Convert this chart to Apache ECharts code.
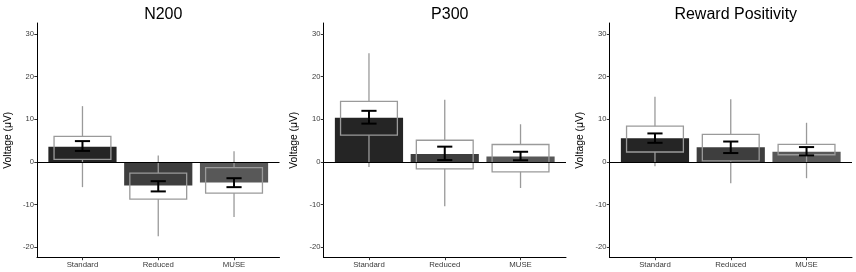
<!DOCTYPE html>
<html>
<head>
<meta charset="utf-8">
<script src="https://cdn.jsdelivr.net/npm/echarts@6/dist/echarts.min.js"></script>
<style>
html,body{margin:0;padding:0;background:#fff;}
#chart{width:856px;height:272px;}
</style>
</head>
<body>
<div id="chart"></div>
<script>
// ---- data ----
const categories = ['Standard', 'Reduced', 'MUSE'];
const panelTitles = ['N200', 'P300', 'Reward Positivity'];
const yTicks = [-20, -10, 0, 10, 20, 30];
const yAxisTitle = 'Voltage (\u03bcV)';

// N200
const n200Mean = [3.6, -5.5, -4.8];
const n200ErrLow = [2.6, -6.9, -5.9];
const n200ErrHigh = [4.9, -4.5, -3.8];
const n200Q1 = [0.6, -8.7, -7.3];
const n200Q3 = [6.0, -2.6, -1.3];
const n200WhiskLow = [-5.9, -17.4, -12.9];
const n200WhiskHigh = [13.1, 1.5, 2.5];

// P300
const p300Mean = [10.4, 1.85, 1.3];
const p300ErrLow = [9.0, 0.45, 0.4];
const p300ErrHigh = [12.0, 3.6, 2.4];
const p300Q1 = [6.3, -1.6, -2.3];
const p300Q3 = [14.2, 5.1, 4.1];
const p300WhiskLow = [-1.2, -10.4, -6.1];
const p300WhiskHigh = [25.5, 14.6, 8.85];

// Reward Positivity
const rewpMean = [5.55, 3.45, 2.4];
const rewpErrLow = [4.5, 2.1, 1.55];
const rewpErrHigh = [6.7, 4.8, 3.5];
const rewpQ1 = [2.35, 0.25, 1.7];
const rewpQ3 = [8.4, 6.5, 4.15];
const rewpWhiskLow = [-1.0, -5.0, -3.8];
const rewpWhiskHigh = [15.3, 14.7, 9.2];

// ---- styling ----
const barColors = ['#252525', '#3e3e3e', '#585858'];
const FONT = "'Liberation Sans', Arial, sans-serif";
const gridLefts = [37, 323.5, 609.5];
const gridWidth = 242.5;
const gridTop = 23;
const gridBottom = 14.5;

const panels = [
  {mean: n200Mean, lo: n200ErrLow, hi: n200ErrHigh, q1: n200Q1, q3: n200Q3, wl: n200WhiskLow, wh: n200WhiskHigh},
  {mean: p300Mean, lo: p300ErrLow, hi: p300ErrHigh, q1: p300Q1, q3: p300Q3, wl: p300WhiskLow, wh: p300WhiskHigh},
  {mean: rewpMean, lo: rewpErrLow, hi: rewpErrHigh, q1: rewpQ1, q3: rewpQ3, wl: rewpWhiskLow, wh: rewpWhiskHigh}
];

const BAR_HALF = 0.45, BOX_HALF = 0.375, CAP_HALF = 0.1;

function renderBar(params, api) {
  const x = api.value(0), m = api.value(1);
  const a = api.coord([x - BAR_HALF, 0]);
  const b = api.coord([x + BAR_HALF, m]);
  return {
    type: 'rect',
    shape: {x: a[0], y: Math.min(a[1], b[1]), width: b[0] - a[0], height: Math.abs(b[1] - a[1])},
    style: {fill: barColors[params.dataIndex]}
  };
}

function renderBox(params, api) {
  const x = api.value(0);
  const q1 = api.value(1), q3 = api.value(2), wl = api.value(3), wh = api.value(4);
  const tl = api.coord([x - BOX_HALF, q3]);
  const br = api.coord([x + BOX_HALF, q1]);
  const c = api.coord([x, 0])[0];
  const yWl = api.coord([x, wl])[1], yWh = api.coord([x, wh])[1];
  const ls = {stroke: '#9a9a9a', lineWidth: 1.3, fill: null};
  return {
    type: 'group',
    children: [
      {type: 'line', shape: {x1: c, y1: yWh, x2: c, y2: tl[1]}, style: ls},
      {type: 'line', shape: {x1: c, y1: br[1], x2: c, y2: yWl}, style: ls},
      {type: 'rect', shape: {x: tl[0], y: tl[1], width: br[0] - tl[0], height: br[1] - tl[1]}, style: ls}
    ]
  };
}

function renderErr(params, api) {
  const x = api.value(0), lo = api.value(1), hi = api.value(2);
  const pLo = api.coord([x, lo]), pHi = api.coord([x, hi]);
  const l = api.coord([x - CAP_HALF, lo])[0], r = api.coord([x + CAP_HALF, lo])[0];
  const st = {stroke: '#000', lineWidth: 2};
  return {
    type: 'group',
    children: [
      {type: 'line', shape: {x1: pLo[0], y1: pLo[1], x2: pHi[0], y2: pHi[1]}, style: st},
      {type: 'line', shape: {x1: l, y1: pLo[1], x2: r, y2: pLo[1]}, style: st},
      {type: 'line', shape: {x1: l, y1: pHi[1], x2: r, y2: pHi[1]}, style: st}
    ]
  };
}

const grids = [], xAxes = [], yAxes = [], series = [], titles = [];
panels.forEach((p, i) => {
  grids.push({left: gridLefts[i], width: gridWidth, top: gridTop, bottom: gridBottom, containLabel: false});
  titles.push({
    text: panelTitles[i], left: gridLefts[i] + gridWidth / 2, top: 2, textAlign: 'center',
    textStyle: {fontFamily: FONT, fontSize: 16, fontWeight: 'normal', color: '#000'}
  });
  xAxes.push({
    type: 'value', gridIndex: i, min: 0.4, max: 3.6,
    axisLine: {show: true, onZero: false, lineStyle: {color: '#000', width: 1}},
    axisTick: {show: true, length: 2.7, lineStyle: {color: '#333'}, customValues: [1, 2, 3]},
    axisLabel: {show: true, customValues: [1, 2, 3], formatter: v => categories[Math.round(v) - 1],
      fontFamily: FONT, fontSize: 7.8, color: '#3a3a3a', margin: 3},
    splitLine: {show: false}
  });
  yAxes.push({
    type: 'value', gridIndex: i, min: -22.4, max: 32.6,
    name: yAxisTitle, nameLocation: 'middle', nameRotate: 90, nameGap: 24,
    nameTextStyle: {fontFamily: FONT, fontSize: 10.3, color: '#000'},
    axisLine: {show: true, lineStyle: {color: '#000', width: 1}},
    axisTick: {show: true, length: 2.7, lineStyle: {color: '#333'}, customValues: yTicks},
    axisLabel: {show: true, customValues: yTicks, fontFamily: FONT, fontSize: 7.6, color: '#3a3a3a', margin: 3},
    splitLine: {show: false}
  });
  const idx = categories.map((c, k) => k + 1);
  series.push({
    type: 'custom', xAxisIndex: i, yAxisIndex: i, z: 2,
    renderItem: renderBar,
    data: idx.map((x, k) => [x, p.mean[k]]),
    markLine: {silent: true, symbol: 'none', label: {show: false},
      lineStyle: {color: '#000', width: 1, type: 'solid'}, data: [{yAxis: 0}]}
  });
  series.push({
    type: 'custom', xAxisIndex: i, yAxisIndex: i, z: 3,
    renderItem: renderBox,
    data: idx.map((x, k) => [x, p.q1[k], p.q3[k], p.wl[k], p.wh[k]])
  });
  series.push({
    type: 'custom', xAxisIndex: i, yAxisIndex: i, z: 4,
    renderItem: renderErr,
    data: idx.map((x, k) => [x, p.lo[k], p.hi[k]])
  });
});

const chart = echarts.init(document.getElementById('chart'), null, {renderer: 'canvas'});
chart.setOption({
  animation: false,
  backgroundColor: '#fff',
  title: titles,
  grid: grids,
  xAxis: xAxes,
  yAxis: yAxes,
  series: series
});
</script>
</body>
</html>
